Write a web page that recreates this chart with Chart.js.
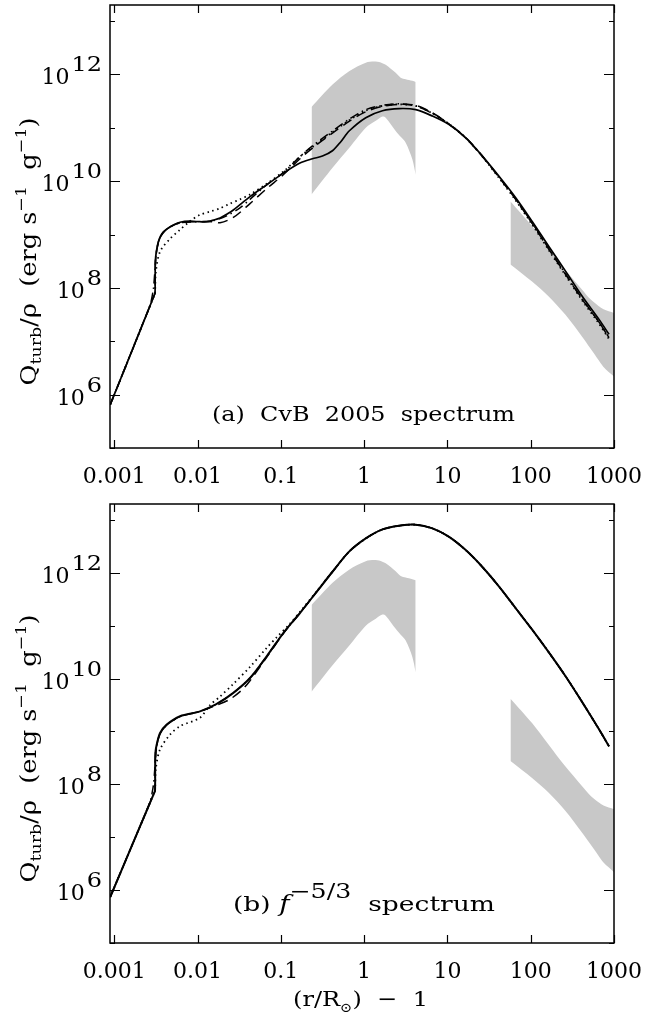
<!DOCTYPE html>
<html>
<head>
    <style>
        body { margin: 0; background: #fff; }
        canvas { position: absolute; left: 0; }
        #chartA { top: 0; }
        #chartB { top: 490px; }
    </style>
</head>
<body>
    <canvas id="chartA" width="658" height="490"></canvas>
    <canvas id="chartB" width="658" height="527"></canvas>

    <script src="https://cdn.jsdelivr.net/npm/chart.js@4/dist/chart.umd.min.js"></script>
    <script>
        // all values are log10 of (r/Rsun - 1) and log10 of Q_turb/rho
        const xTickVals = [0.001, 0.01, 0.1, 1, 10, 100, 1000];
        const xTickLabels = ['0.001', '0.01', '0.1', '1', '10', '100', '1000'];
        const yTickExp = [5, 6, 7, 8, 9, 10, 11, 12, 13];
        const yLabelExp = [6, 8, 10, 12];

        // panel (a): CvB 2005 spectrum
        const aSolidLx = [-3.048, -2.52, -2.51, -2.505, -2.48, -2.45, -2.41, -2.37, -2.29, -2.21, -2.09, -1.97, -1.89, -1.81, -1.73, -1.65, -1.57, -1.37, -1.17, -0.97, -0.77, -0.62, -0.50, -0.38, -0.28, -0.18, 0.02, 0.22, 0.42, 0.62, 0.82, 1.02, 1.22, 1.42, 1.62, 1.82, 2.02, 2.22, 2.42, 2.62, 2.82, 2.94];
        const aSolidLy = [5.81, 7.86, 7.90, 8.53, 8.80, 8.95, 9.05, 9.10, 9.18, 9.23, 9.25, 9.24, 9.24, 9.27, 9.31, 9.38, 9.46, 9.71, 9.93, 10.15, 10.34, 10.42, 10.47, 10.57, 10.74, 10.94, 11.19, 11.32, 11.36, 11.34, 11.22, 11.06, 10.81, 10.47, 10.09, 9.69, 9.24, 8.77, 8.31, 7.84, 7.41, 7.13];

        const aDotLx = [-3.048, -2.52, -2.51, -2.50, -2.45, -2.33, -2.21, -2.09, -1.97, -1.85, -1.73, -1.61, -1.49, -1.37, -1.17, -0.97, -0.77, -0.62, -0.38, -0.18, 0.02, 0.22, 0.42, 0.62, 0.82, 1.02, 1.22, 1.42, 1.62, 1.82, 2.02, 2.22, 2.42, 2.62, 2.82, 2.94];
        const aDotLy = [5.81, 7.86, 7.90, 8.30, 8.68, 8.92, 9.09, 9.25, 9.37, 9.43, 9.49, 9.58, 9.66, 9.75, 9.95, 10.18, 10.46, 10.64, 10.92, 11.14, 11.32, 11.41, 11.44, 11.41, 11.27, 11.07, 10.81, 10.46, 10.06, 9.64, 9.18, 8.70, 8.23, 7.76, 7.33, 7.04];

        const aDashLx = [-3.048, -2.52, -2.51, -2.505, -2.48, -2.45, -2.37, -2.21, -1.97, -1.81, -1.73, -1.57, -1.37, -1.17, -0.97, -0.77, -0.62, -0.38, -0.18, 0.02, 0.22, 0.42, 0.62, 0.82, 1.02, 1.22, 1.42, 1.62, 1.82, 2.02, 2.22, 2.42, 2.62, 2.82, 2.94];
        const aDashLy = [5.81, 7.86, 7.90, 8.50, 8.78, 8.94, 9.10, 9.22, 9.24, 9.24, 9.22, 9.32, 9.58, 9.86, 10.12, 10.42, 10.62, 10.90, 11.12, 11.30, 11.40, 11.44, 11.42, 11.28, 11.07, 10.81, 10.46, 10.07, 9.66, 9.20, 8.72, 8.25, 7.78, 7.36, 7.06];

        const aDDLx = [-3.048, -2.57, -2.56, -2.53, -2.51, -2.49, -2.45, -2.37, -2.21, -1.97, -1.81, -1.65, -1.49, -1.37, -1.17, -0.97, -0.77, -0.62, -0.38, -0.18, 0.02, 0.22, 0.42, 0.62, 0.82, 1.02, 1.22, 1.42, 1.62, 1.82, 2.02, 2.22, 2.42, 2.62, 2.82, 2.94];
        const aDDLy = [5.81, 7.66, 7.72, 7.98, 8.35, 8.72, 8.94, 9.10, 9.22, 9.24, 9.26, 9.35, 9.50, 9.66, 9.93, 10.16, 10.46, 10.66, 10.94, 11.16, 11.34, 11.42, 11.45, 11.41, 11.27, 11.07, 10.82, 10.47, 10.08, 9.66, 9.21, 8.73, 8.26, 7.79, 7.36, 7.07];

        // panel (b): f^-5/3 spectrum
        const bSolidLx = [-3.048, -2.52, -2.51, -2.505, -2.48, -2.45, -2.37, -2.21, -1.97, -1.78, -1.57, -1.37, -1.17, -0.97, -0.77, -0.57, -0.38, -0.18, 0.02, 0.22, 0.42, 0.62, 0.82, 1.02, 1.22, 1.42, 1.62, 1.82, 2.02, 2.22, 2.42, 2.62, 2.82, 2.94];
        const bSolidLy = [5.87, 7.84, 7.88, 8.60, 8.82, 8.97, 9.13, 9.29, 9.38, 9.51, 9.73, 10.01, 10.42, 10.86, 11.24, 11.64, 12.02, 12.40, 12.65, 12.82, 12.89, 12.91, 12.84, 12.68, 12.43, 12.11, 11.74, 11.33, 10.92, 10.49, 10.04, 9.55, 9.04, 8.72];

        const bDotLx = [-3.048, -2.52, -2.51, -2.50, -2.45, -2.33, -2.21, -1.97, -1.85, -1.73, -1.57, -1.37, -1.17, -1.05, -0.90, -0.77, -0.57, -0.38, -0.18, 0.02, 0.22, 0.42, 0.62, 0.82, 1.02, 1.22, 1.42, 1.62, 1.82, 2.02, 2.22, 2.42, 2.62, 2.82, 2.94];
        const bDotLy = [5.87, 7.84, 7.88, 8.30, 8.66, 8.94, 9.10, 9.26, 9.50, 9.66, 9.90, 10.22, 10.58, 10.78, 11.02, 11.26, 11.65, 12.02, 12.40, 12.65, 12.82, 12.89, 12.91, 12.84, 12.68, 12.43, 12.11, 11.74, 11.33, 10.92, 10.49, 10.04, 9.55, 9.04, 8.72];

        const bDashLx = [-3.048, -2.52, -2.51, -2.505, -2.48, -2.45, -2.37, -2.21, -1.97, -1.78, -1.62, -1.47, -1.37, -1.17, -0.97, -0.77, -0.57, -0.38, -0.18, 0.02, 0.22, 0.42, 0.62, 0.82, 1.02, 1.22, 1.42, 1.62, 1.82, 2.02, 2.22, 2.42, 2.62, 2.82, 2.94];
        const bDashLy = [5.87, 7.84, 7.88, 8.58, 8.80, 8.96, 9.12, 9.28, 9.38, 9.49, 9.60, 9.78, 9.96, 10.40, 10.85, 11.24, 11.64, 12.02, 12.40, 12.65, 12.82, 12.89, 12.91, 12.84, 12.68, 12.43, 12.11, 11.74, 11.33, 10.92, 10.49, 10.04, 9.55, 9.04, 8.72];

        const bDDLx = [-3.048, -2.57, -2.56, -2.53, -2.51, -2.49, -2.45, -2.37, -2.21, -1.97, -1.78, -1.57, -1.37, -1.17, -0.97, -0.77, -0.57, -0.38, -0.18, 0.02, 0.22, 0.42, 0.62, 0.82, 1.02, 1.22, 1.42, 1.62, 1.82, 2.02, 2.22, 2.42, 2.62, 2.82, 2.94];
        const bDDLy = [5.87, 7.66, 7.72, 7.98, 8.35, 8.72, 8.95, 9.12, 9.28, 9.38, 9.51, 9.73, 10.01, 10.42, 10.86, 11.24, 11.64, 12.02, 12.40, 12.65, 12.82, 12.89, 12.91, 12.84, 12.68, 12.43, 12.11, 11.74, 11.33, 10.92, 10.49, 10.04, 9.55, 9.04, 8.72];

        // observational ranges (gray bands), same in both panels
        const band1Lx = [-0.631, -0.379, -0.180, 0.020, 0.140, 0.219, 0.259, 0.379, 0.439, 0.499, 0.579, 0.619];
        const band1Hi = [11.39, 11.81, 12.06, 12.22, 12.24, 12.21, 12.18, 12.03, 11.94, 11.91, 11.88, 11.86];
        const band1Lo = [9.75, 10.25, 10.62, 11.00, 11.13, 11.21, 11.19, 10.94, 10.83, 10.72, 10.41, 10.12];
        const band2Lx = [1.757, 2.016, 2.216, 2.415, 2.615, 2.715, 2.814, 2.874, 3.0];
        const band2Hi = [9.62, 9.16, 8.75, 8.34, 7.97, 7.79, 7.66, 7.60, 7.53];
        const band2Lo = [8.44, 8.12, 7.84, 7.50, 7.09, 6.87, 6.65, 6.52, 6.34];

        const SERIF = '"DejaVu Serif", serif';

        function pts(lx, ly) {
            return lx.map((v, i) => ({ x: Math.pow(10, v), y: Math.pow(10, ly[i]) }));
        }

        function line(lx, ly, dash, width) {
            return {
                data: pts(lx, ly), borderColor: '#000', borderWidth: width, borderDash: dash,
                pointRadius: 0, fill: false, tension: 0.3, order: 1
            };
        }

        function band(lx, hi, lo) {
            return [
                { data: pts(lx, hi), borderWidth: 0, pointRadius: 0, fill: '+1', backgroundColor: '#c8c8c8', order: 5, tension: 0.3 },
                { data: pts(lx, lo), borderWidth: 0, pointRadius: 0, fill: false, order: 5, tension: 0.3 }
            ];
        }

        // draw pieces of text (sub/superscripts) one after another, stretched to a width
        function drawRich(ctx, parts, x, y, width) {
            let w = 0;
            parts.forEach(p => { ctx.font = p.font; p.w = ctx.measureText(p.t).width; w += p.w; });
            const k = width ? width / w : 1;
            ctx.save();
            ctx.translate(x, y);
            ctx.scale(k, 1);
            ctx.textAlign = 'left';
            ctx.textBaseline = 'alphabetic';
            let cx = 0;
            parts.forEach(p => { ctx.font = p.font; ctx.fillText(p.t, cx, p.dy || 0); cx += p.w; });
            ctx.restore();
        }

        const frame = {
            id: 'frame',
            beforeDatasetsDraw(chart) {
                const { ctx, chartArea: a, scales: { x, y } } = chart;
                ctx.save();
                ctx.strokeStyle = '#000';
                ctx.lineWidth = 1.2;
                ctx.beginPath();
                x.ticks.forEach(t => {
                    const px = Math.round(x.getPixelForValue(t.value)) + 0.5;
                    ctx.moveTo(px, a.bottom); ctx.lineTo(px, a.bottom - 8);
                    ctx.moveTo(px, a.top); ctx.lineTo(px, a.top + 8);
                });
                y.ticks.forEach(t => {
                    const py = Math.round(y.getPixelForValue(t.value)) + 0.5;
                    const len = t.major ? 10 : 5;
                    ctx.moveTo(a.left, py); ctx.lineTo(a.left + len, py);
                    ctx.moveTo(a.right, py); ctx.lineTo(a.right - len, py);
                });
                ctx.stroke();
                ctx.restore();
            },
            afterDraw(chart, args, opts) {
                const { ctx, chartArea: a, scales: { y } } = chart;
                ctx.save();
                ctx.strokeStyle = '#000';
                ctx.lineWidth = 1.5;
                ctx.strokeRect(a.left, a.top, a.right - a.left, a.bottom - a.top);
                ctx.fillStyle = '#000';

                // y tick labels 10^n
                yLabelExp.forEach(e => {
                    const py = y.getPixelForValue(Math.pow(10, e));
                    const xr = a.left - 8;
                    ctx.textAlign = 'right';
                    ctx.textBaseline = 'alphabetic';
                    ctx.font = '20px ' + SERIF;
                    const sw = ctx.measureText(String(e)).width * 1.2;
                    drawRich(ctx, [{ t: String(e), font: '20px ' + SERIF }], xr - sw, py - 3, sw);
                    ctx.font = '22px ' + SERIF;
                    ctx.fillText('10', xr - sw - 2, py + 10);
                });

                // y axis title, rotated
                const main = '22px ' + SERIF, small = '15px ' + SERIF;
                ctx.save();
                ctx.translate(36, (a.top + a.bottom) / 2 + 25);
                ctx.rotate(-Math.PI / 2);
                drawRich(ctx, [
                    { t: 'Q', font: main },
                    { t: 'turb', font: small, dy: 5 },
                    { t: '/\u03c1  (erg s', font: main },
                    { t: '\u22121', font: small, dy: -10 },
                    { t: '  g', font: main },
                    { t: '\u22121', font: small, dy: -10 },
                    { t: ')', font: main }
                ], -134, 0, 268);
                ctx.restore();

                // panel label and x title
                opts.labels.forEach(l => drawRich(ctx, l.parts, l.x, l.y, l.w));
                ctx.restore();
            }
        };

        function makeChart(id, datasets, padTop, xHeight, labels) {
            return new Chart(document.getElementById(id), {
                type: 'line',
                data: { datasets: datasets },
                options: {
                    responsive: false,
                    animation: false,
                    devicePixelRatio: 1,
                    layout: { padding: { left: 0, right: 43, top: padTop, bottom: 0 } },
                    plugins: { legend: { display: false }, tooltip: { enabled: false }, frame: { labels: labels } },
                    scales: {
                        x: {
                            type: 'logarithmic', min: 0.00089, max: 1000,
                            grid: { display: false, drawTicks: false }, border: { display: false },
                            afterBuildTicks: s => { s.ticks = xTickVals.map(v => ({ value: v })); },
                            afterFit: s => { s.height = xHeight; },
                            ticks: {
                                autoSkip: false, maxRotation: 0, padding: 16, color: '#000',
                                font: { family: SERIF, size: 22 },
                                callback: (v, i) => xTickLabels[i]
                            }
                        },
                        y: {
                            type: 'logarithmic', min: 1e5, max: 2e13,
                            grid: { display: false, drawTicks: false }, border: { display: false },
                            afterBuildTicks: s => { s.ticks = yTickExp.map(e => ({ value: Math.pow(10, e), major: e % 2 === 0 })); },
                            afterFit: s => { s.width = 110; },
                            ticks: { display: false }
                        }
                    }
                },
                plugins: [frame]
            });
        }

        makeChart('chartA', [
            line(aSolidLx, aSolidLy, [], 1.7),
            line(aDotLx, aDotLy, [1.5, 3.5], 1.8),
            line(aDashLx, aDashLy, [10, 6], 1.5),
            line(aDDLx, aDDLy, [9, 4, 1.5, 4], 1.5),
            ...band(band1Lx, band1Hi, band1Lo),
            ...band(band2Lx, band2Hi, band2Lo)
        ], 5, 42, [
            { parts: [{ t: '(a)  CvB  2005  spectrum', font: '21px ' + SERIF }], x: 212, y: 421, w: 303 }
        ]);

        makeChart('chartB', [
            line(bSolidLx, bSolidLy, [], 2),
            line(bDotLx, bDotLy, [1.5, 3.5], 1.8),
            line(bDashLx, bDashLy, [10, 6], 1.5),
            line(bDDLx, bDDLy, [9, 4, 1.5, 4], 1.5),
            ...band(band1Lx, band1Hi, band1Lo),
            ...band(band2Lx, band2Hi, band2Lo)
        ], 14, 74, [
            { parts: [
                { t: '(b) ', font: '21px ' + SERIF },
                { t: 'f', font: 'italic 22px ' + SERIF },
                { t: '\u22125/3', font: '20px ' + SERIF, dy: -13 },
                { t: '  spectrum', font: '21px ' + SERIF }
            ], x: 233, y: 421, w: 262 },
            { parts: [
                { t: '(r/R', font: '21px ' + SERIF },
                { t: '\u2299', font: '13px ' + SERIF, dy: 6 },
                { t: ')  \u2212  1', font: '21px ' + SERIF }
            ], x: 293, y: 516, w: 135 }
        ]);
    </script>
</body>
</html>
